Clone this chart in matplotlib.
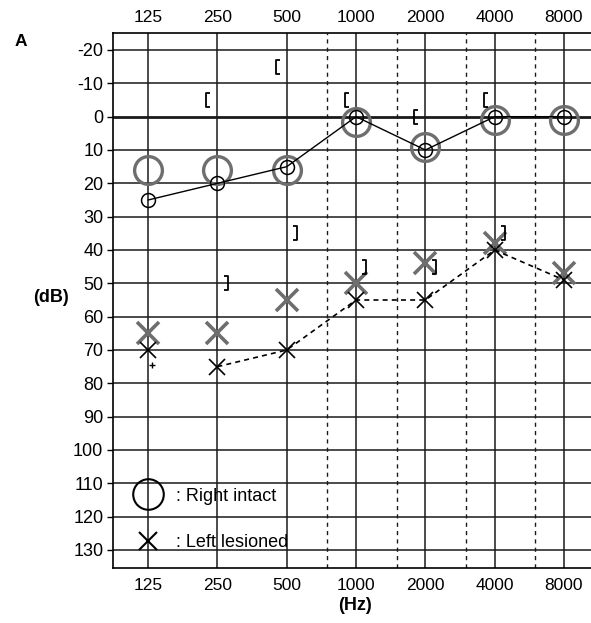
import matplotlib.pyplot as plt
import numpy as np
from matplotlib.path import Path
from matplotlib.lines import Line2D

plt.rcParams['font.family'] = ['Liberation Sans', 'DejaVu Sans']

# audiogram values (dB HL)
freqs = [125, 250, 500, 1000, 2000, 4000, 8000]
freq_labels = ["125", "250", "500", "1000", "2000", "4000", "8000"]
half_octaves = [750, 1500, 3000, 6000]
db_ticks = list(range(-20, 140, 10))

right_ac = [25, 20, 15, 0, 10, 0, 0]
right_ac_prev = [16, 16, 16, 1.5, 9, 1, 1]
left_ac = [70, 75, 70, 55, 55, 40, 49]
left_ac_prev = [65, 65, 55, 50, 44, 38, 47]

bc_freqs = [250, 500, 1000, 2000, 4000]
right_bc = [-5, -15, -5, 0, -5]
left_bc = [50, 35, 45, 45, 35]

# bracket markers for masked bone conduction
open_left = Path([(0.3, -0.5), (0, -0.5), (0, 0.5), (0.3, 0.5)],
                 [Path.MOVETO, Path.LINETO, Path.LINETO, Path.LINETO])
open_right = Path([(-0.3, -0.5), (0, -0.5), (0, 0.5), (-0.3, 0.5)],
                  [Path.MOVETO, Path.LINETO, Path.LINETO, Path.LINETO])

fig = plt.figure(figsize=(5.91, 6.23), dpi=100)
ax = fig.add_axes([113 / 591, 1 - 568 / 623, 478 / 591, 535 / 623])

ax.set_xscale('log', base=2)
ax.set_xlim(88, 10480)
ax.set_ylim(135.4, -25.1)

# grid
for f in freqs:
    ax.axvline(f, color='#1a1a1a', lw=1.1, zorder=1)
for f in half_octaves:
    ax.axvline(f, color='#1a1a1a', lw=1.0, ls=(0, (3, 3)), zorder=1)
for d in db_ticks:
    ax.axhline(d, color='#1a1a1a', lw=2.0 if d == 0 else 1.1, zorder=1)

gray = '#6e6e6e'
# right ear (intact)
ax.plot(freqs, right_ac_prev, 'o', ms=20, mfc='none', mec=gray, mew=2.4, zorder=3)
ax.plot(freqs, right_ac, '-o', color='black', lw=1.0, ms=10, mfc='none', mew=1.1, zorder=4)
# left ear (lesioned)
ax.plot(freqs, left_ac_prev, 'x', ms=16, mec=gray, mew=2.6, zorder=3)
ax.plot(freqs, left_ac, 'x', ms=12, mec='black', mew=1.2, zorder=4)
ax.plot(freqs[1:], left_ac[1:], '--', color='black', lw=1.2, dashes=(3, 2.5), zorder=4)
ax.plot([125 * 2 ** 0.06], [74.5], '+', ms=4, mec='black', mew=1.0, zorder=4)

# masked bone conduction
ax.plot(np.array(bc_freqs) * 2 ** -0.16, right_bc, ls='none', marker=open_left,
        ms=10, mec='black', mew=1.3, mfc='none', zorder=4)
ax.plot(np.array(bc_freqs) * 2 ** 0.15, left_bc, ls='none', marker=open_right,
        ms=10, mec='black', mew=1.3, mfc='none', zorder=4)

ax.set_xticks(freqs)
ax.set_xticklabels(freq_labels)
ax.xaxis.set_minor_locator(plt.NullLocator())
ax.set_yticks(db_ticks)
ax.set_yticklabels([str(d) for d in db_ticks])
ax.tick_params(axis='x', length=0, labelsize=12.5, pad=7)
ax.tick_params(axis='y', length=4, width=1, labelsize=13, pad=3)

top = ax.secondary_xaxis('top')
top.set_xticks(freqs)
top.set_xticklabels(freq_labels)
top.xaxis.set_minor_locator(plt.NullLocator())
top.tick_params(axis='x', length=0, labelsize=12.5, pad=6)
top.spines['top'].set_visible(False)

for s in ['left', 'top', 'bottom']:
    ax.spines[s].set_linewidth(1.2)
ax.spines['right'].set_visible(False)

handles = [Line2D([], [], ls='none', marker='o', ms=22, mfc='none', mec='black', mew=1.5),
           Line2D([], [], ls='none', marker='x', ms=13, mec='black', mew=1.5)]
ax.legend(handles, [': Right intact', ': Left lesioned'], loc='lower left',
          bbox_to_anchor=(0.025, 0.014), frameon=False, fontsize=13,
          handlelength=1.6, handletextpad=0.75, labelspacing=1.65, borderpad=0)

fig.text(15 / 591, 1 - 42 / 623, 'A', fontsize=12.5, fontweight='bold', ha='left', va='center')
fig.text(51 / 591, 1 - 297 / 623, '(dB)', fontsize=13, fontweight='bold', ha='center', va='center')
fig.text(355 / 591, 1 - 605 / 623, '(Hz)', fontsize=13, fontweight='bold', ha='center', va='center')

fig.savefig('out.png', dpi=100)
plt.close()
